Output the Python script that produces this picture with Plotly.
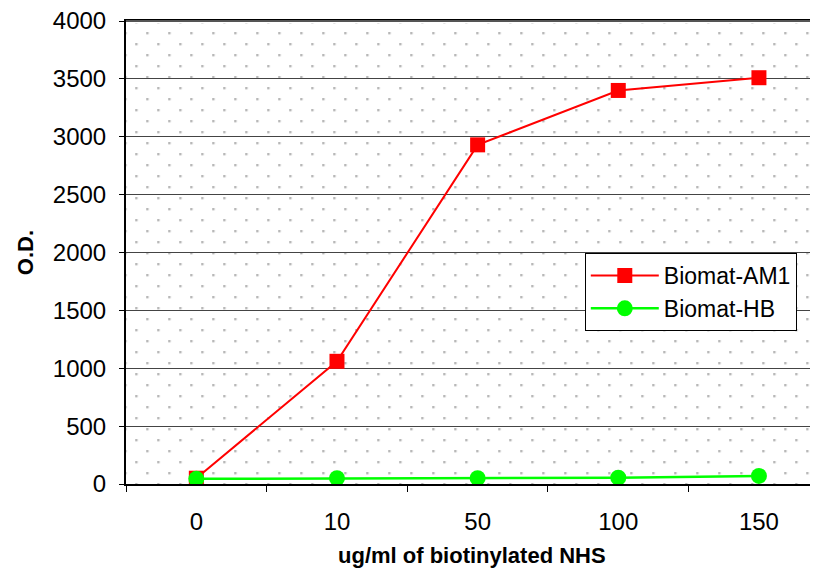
import base64
import plotly.graph_objects as go

categories = ["0", "10", "50", "100", "150"]
am1_values = [50, 1060, 2930, 3400, 3510]
hb_values = [45, 50, 50, 55, 70]
y_ticks = [0, 500, 1000, 1500, 2000, 2500, 3000, 3500, 4000]

# the page body adds an 8px margin, so the figure is 8px smaller
W, H = 810, 560
ML, MT, MB, MR = 118, 13, 84, 0
PW, PH = W - ML - MR, H - MT - MB

svg = f'''<svg xmlns="http://www.w3.org/2000/svg" width="{PW}" height="{PH}" viewBox="0 0 {PW} {PH}">
<defs><pattern id="p" x="9.2" y="0" width="22" height="22" patternUnits="userSpaceOnUse">
<rect x="0" y="0" width="2.4" height="2.4" fill="#b8b8b8"/>
<rect x="11" y="11" width="2.4" height="2.4" fill="#b8b8b8"/>
</pattern></defs>
<rect x="0" y="2" width="{PW}" height="{PH - 2}" fill="url(#p)"/>
</svg>'''
src = "data:image/svg+xml;base64," + base64.b64encode(svg.encode()).decode()

fig = go.Figure()
fig.add_trace(go.Scatter(
    x=categories, y=am1_values, name="Biomat-AM1", mode="lines+markers",
    line=dict(color="#ff0000", width=2),
    marker=dict(symbol="square", size=15, color="#ff0000"),
))
fig.add_trace(go.Scatter(
    x=categories, y=hb_values, name="Biomat-HB", mode="lines+markers",
    line=dict(color="#00ff00", width=2.5),
    marker=dict(symbol="circle", size=16, color="#00ff00"),
))

fig.update_layout(
    width=W, height=H,
    margin=dict(l=ML, r=MR, t=MT, b=MB, pad=0),
    paper_bgcolor="white", plot_bgcolor="white",
    font=dict(family="Liberation Sans, Arial, sans-serif", size=24, color="black"),
    images=[dict(source=src, xref="paper", yref="paper", x=0, y=1, sizex=1, sizey=1,
                 sizing="stretch", xanchor="left", yanchor="top", layer="below")],
    shapes=[dict(type="line", xref="paper", yref="paper", x0=0, x1=1, y0=1, y1=1,
                 line=dict(color="#555555", width=2), layer="above")],
    legend=dict(x=0.663, y=0.499, xanchor="left", yanchor="top",
                bgcolor="white", bordercolor="black", borderwidth=1,
                font=dict(size=23), itemwidth=68, tracegroupgap=0),
    showlegend=True,
    annotations=[dict(text="<b>ug/ml of biotinylated NHS</b>", xref="paper", yref="paper",
                      x=0.5, y=0, xanchor="center", yanchor="middle", yshift=-71,
                      showarrow=False, font=dict(size=22))],
)
fig.update_xaxes(
    type="category", range=[-0.5, 4.42], tickson="boundaries",
    showgrid=False, showline=True, linecolor="black", linewidth=2, mirror=True,
    ticks="outside", ticklen=6, tickcolor="black", ticklabelstandoff=15,
)
fig.update_yaxes(
    range=[0, 4000], tickvals=y_ticks,
    showgrid=True, gridcolor="#444444", gridwidth=1, zeroline=False,
    showline=True, linecolor="black", linewidth=2,
    ticks="outside", ticklen=5, tickcolor="black", ticklabelstandoff=8,
    ticklabeloverflow="allow",
    title=dict(text="<b>O.D.</b>", font=dict(size=22), standoff=13),
)

fig.write_html("out.html")
